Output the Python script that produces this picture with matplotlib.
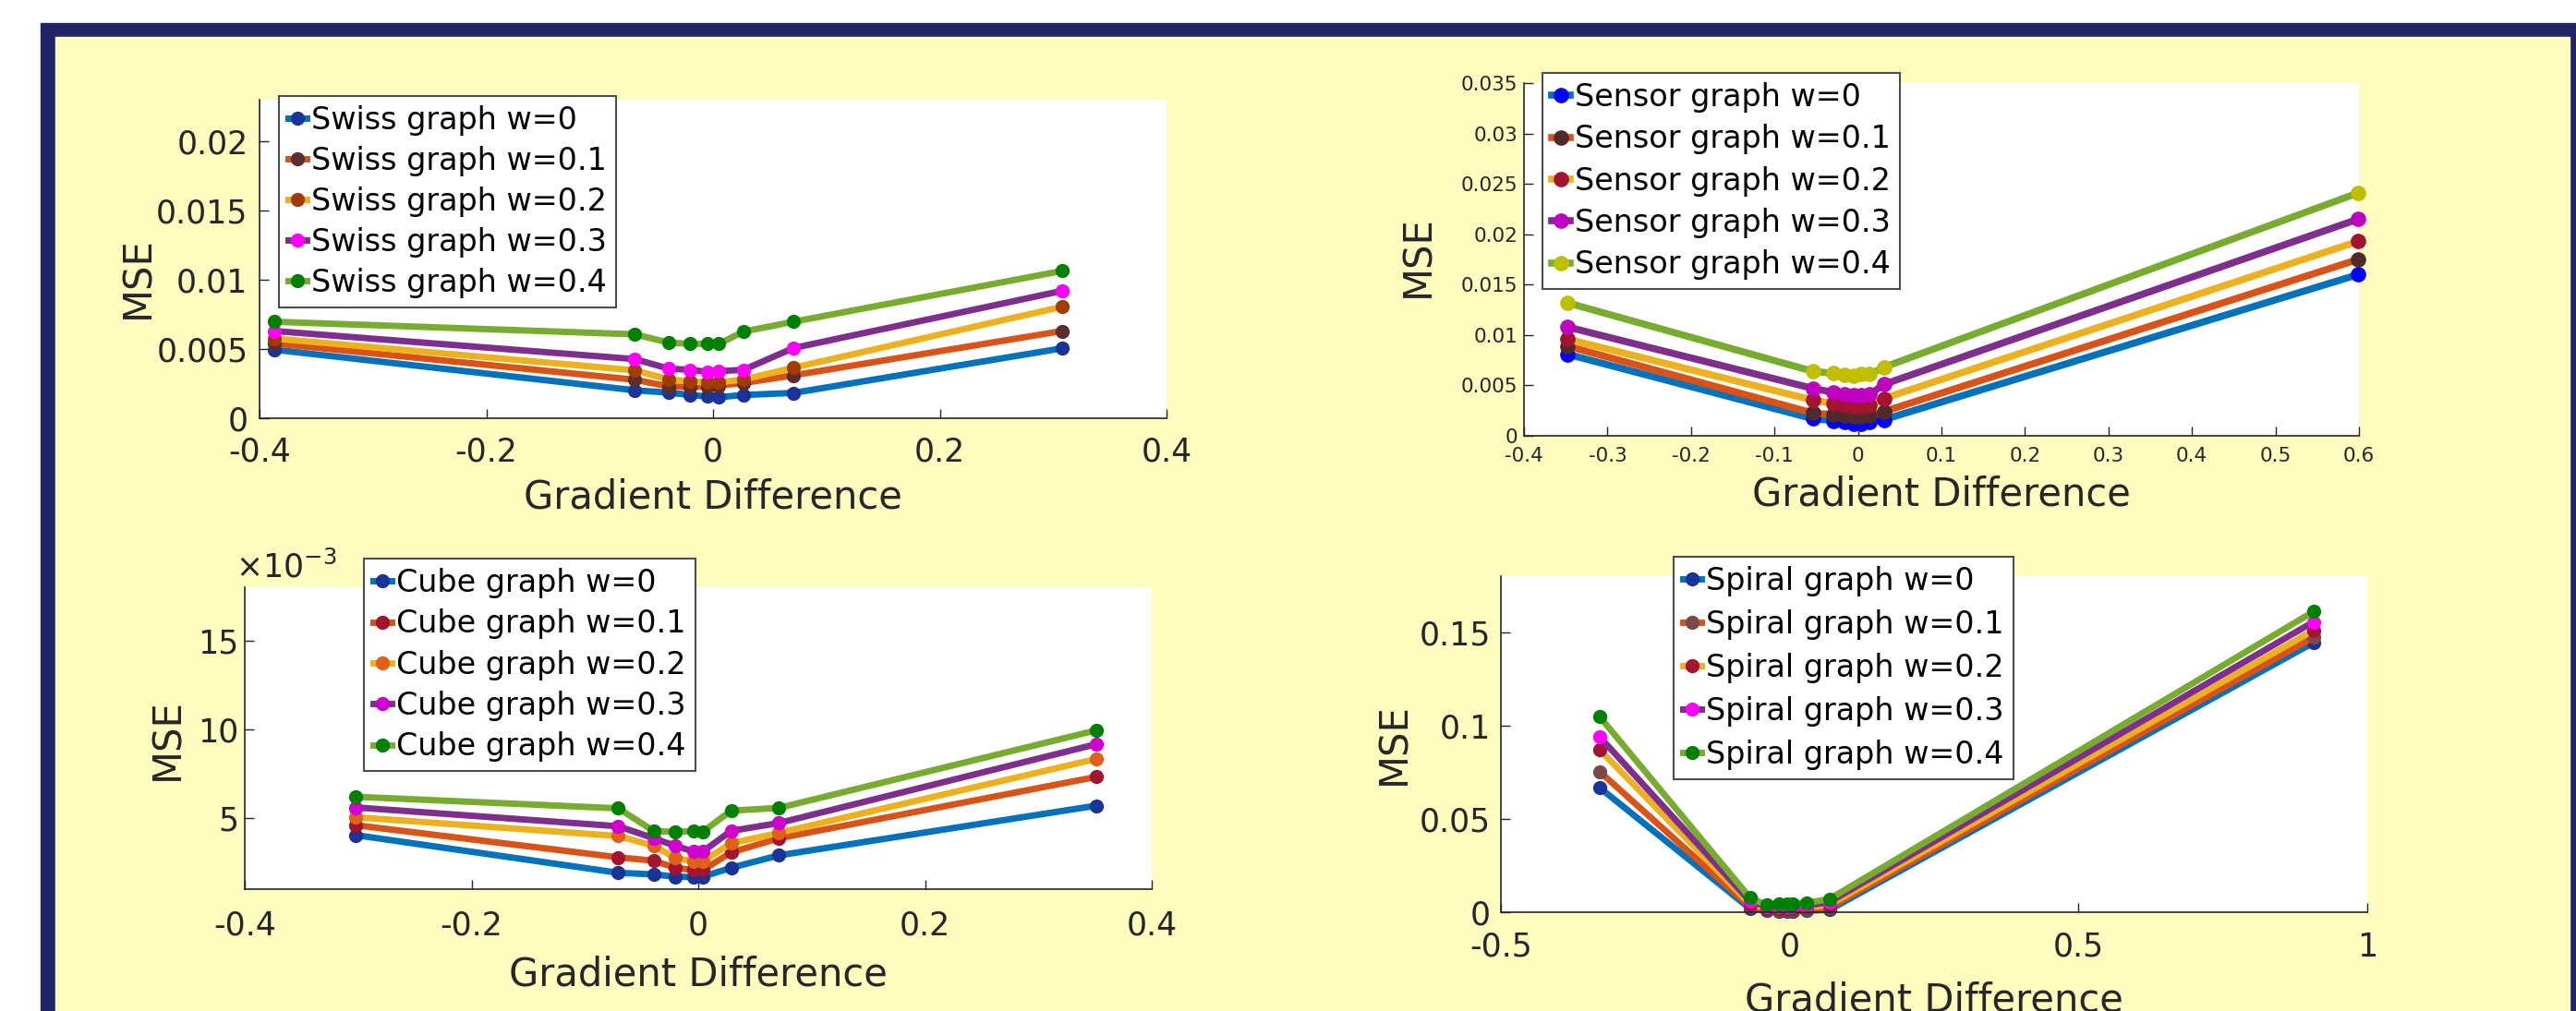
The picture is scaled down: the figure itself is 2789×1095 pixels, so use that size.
from __future__ import annotations

import matplotlib

matplotlib.use("Agg")
import matplotlib.pyplot as plt
from matplotlib.patches import Rectangle
from matplotlib.ticker import FixedLocator, FuncFormatter

plt.rcParams["font.family"] = ["DejaVu Sans"]

# ----------------------------
# Data
# ----------------------------
weights = ["0", "0.1", "0.2", "0.3", "0.4"]

swiss_x = [-0.387, -0.069, -0.039, -0.020, -0.005, 0.005, 0.027, 0.071, 0.308]
swiss_w0 = [0.00495, 0.00202, 0.00185, 0.00168, 0.00157, 0.00152, 0.00168, 0.00183, 0.00505]
swiss_w1 = [0.00540, 0.00278, 0.00230, 0.00225, 0.00230, 0.00236, 0.00255, 0.00310, 0.00630]
swiss_w2 = [0.00576, 0.00346, 0.00280, 0.00266, 0.00260, 0.00260, 0.00280, 0.00365, 0.00805]
swiss_w3 = [0.00630, 0.00427, 0.00358, 0.00350, 0.00335, 0.00340, 0.00350, 0.00507, 0.00920]
swiss_w4 = [0.00697, 0.00606, 0.00546, 0.00537, 0.00537, 0.00537, 0.00626, 0.00697, 0.01064]

sensor_x = [-0.348, -0.054, -0.029, -0.016, -0.005, 0.004, 0.014, 0.031, 0.599]
sensor_w0 = [0.0081, 0.0017, 0.0015, 0.0014, 0.0012, 0.0012, 0.0014, 0.0016, 0.0160]
sensor_w1 = [0.0089, 0.00226, 0.0021, 0.0020, 0.0019, 0.0019, 0.0020, 0.0024, 0.0175]
sensor_w2 = [0.0096, 0.00354, 0.0032, 0.0030, 0.0029, 0.0029, 0.0030, 0.0037, 0.0193]
sensor_w3 = [0.0108, 0.0047, 0.0043, 0.0041, 0.0040, 0.0040, 0.0041, 0.0051, 0.0215]
sensor_w4 = [0.0132, 0.0064, 0.0062, 0.00605, 0.0060, 0.0061, 0.0061, 0.0068, 0.0241]

cube_x = [-0.302, -0.0705, -0.039, -0.020, -0.004, 0.004, 0.029, 0.071, 0.351]
cube_w0 = [0.00404, 0.00192, 0.00183, 0.00170, 0.00168, 0.00170, 0.00220, 0.00290, 0.00570]
cube_w1 = [0.00460, 0.00279, 0.00260, 0.00220, 0.00207, 0.00207, 0.00307, 0.00386, 0.00732]
cube_w2 = [0.00505, 0.00399, 0.00343, 0.00275, 0.00257, 0.00257, 0.00358, 0.00417, 0.00833]
cube_w3 = [0.00560, 0.00454, 0.00386, 0.00343, 0.00312, 0.00312, 0.00428, 0.00472, 0.00916]
cube_w4 = [0.00620, 0.00555, 0.00426, 0.00423, 0.00426, 0.00423, 0.00542, 0.00557, 0.00994]

spiral_x = [-0.329, -0.069, -0.040, -0.018, -0.005, 0.005, 0.029, 0.069, 0.907]
spiral_w0 = [0.0667, 0.0020, 0.0008, 0.0005, 0.0005, 0.0005, 0.0008, 0.0013, 0.1444]
spiral_w1 = [0.0753, 0.0030, 0.0015, 0.0012, 0.0012, 0.0012, 0.0015, 0.0025, 0.1472]
spiral_w2 = [0.0870, 0.0045, 0.0022, 0.0020, 0.0020, 0.0020, 0.0025, 0.0040, 0.1510]
spiral_w3 = [0.0939, 0.0060, 0.0030, 0.0030, 0.0030, 0.0030, 0.0035, 0.0055, 0.1555]
spiral_w4 = [0.1047, 0.0079, 0.0038, 0.0046, 0.0046, 0.0046, 0.0050, 0.0071, 0.1610]

swiss_xticks = [-0.4, -0.2, 0, 0.2, 0.4]
swiss_yticks = [0, 0.005, 0.01, 0.015, 0.02]
sensor_xticks = [-0.4, -0.3, -0.2, -0.1, 0, 0.1, 0.2, 0.3, 0.4, 0.5, 0.6]
sensor_yticks = [0, 0.005, 0.01, 0.015, 0.02, 0.025, 0.03, 0.035]
cube_xticks = [-0.4, -0.2, 0, 0.2, 0.4]
cube_yticks = [0.005, 0.010, 0.015]
spiral_xticks = [-0.5, 0, 0.5, 1]
spiral_yticks = [0, 0.05, 0.1, 0.15]

# MATLAB default line colours, one per weight
line_colors = ["#0072BD", "#D95319", "#EDB120", "#7E2F8E", "#77AC30"]

swiss_markers = ["#1a3399", "#5a2e2e", "#a03c00", "#ff00ff", "#008000"]
sensor_markers = ["#0000ff", "#4f2a2a", "#a2142f", "#c000c0", "#bfbf00"]
cube_markers = ["#1a3399", "#a2142f", "#e0601a", "#d000d0", "#008000"]
spiral_markers = ["#1a3399", "#7a4a4a", "#a2142f", "#ff00ff", "#008000"]

NAVY = "#222468"
PAPER = "#fffcc0"
INK = "#262626"

W, H = 2789, 1095


def _fig_box(left: float, top: float, right: float, bottom: float) -> list[float]:
    """pixel box -> [left, bottom, width, height] in figure fraction"""
    return [left / W, 1 - bottom / H, (right - left) / W, (bottom - top) / H]


def _panel(
    fig,
    box: list[float],
    x: list[float],
    series: list[list[float]],
    name: str,
    markers: list[str],
    xlim: tuple[float, float],
    ylim: tuple[float, float],
    xticks: list[float],
    yticks: list[float],
    legend_at: tuple[float, float],
    ylabel_at: tuple[float, float],
    xlabel_at: tuple[float, float],
    tick_size: float = 25,
    xpad: float = 14,
    ypad: float = 8,
    lw: float = 5.0,
    ms: float = 10,
    spacing: float = 0.36,
):
    ax = fig.add_axes(box)
    ax.set_facecolor("white")

    for i, y in enumerate(series):
        ax.plot(
            x,
            y,
            color=line_colors[i],
            linewidth=lw,
            marker="o",
            markersize=ms,
            markerfacecolor=markers[i],
            markeredgecolor=markers[i],
            label=f"{name} graph w={weights[i]}",
            clip_on=False,
        )

    ax.set_xlim(*xlim)
    ax.set_ylim(*ylim)
    ax.xaxis.set_major_locator(FixedLocator(xticks))
    ax.yaxis.set_major_locator(FixedLocator(yticks))
    ax.xaxis.set_major_formatter(FuncFormatter(lambda v, _: f"{v:g}"))
    ax.yaxis.set_major_formatter(FuncFormatter(lambda v, _: f"{v:g}"))

    for side in ("top", "right"):
        ax.spines[side].set_visible(False)
    for side in ("left", "bottom"):
        ax.spines[side].set_color(INK)
        ax.spines[side].set_linewidth(1.2)

    ax.tick_params(
        direction="in",
        length=7,
        width=1.0,
        color=INK,
        labelcolor=INK,
        labelsize=tick_size,
    )
    ax.tick_params(axis="x", pad=xpad)
    ax.tick_params(axis="y", pad=ypad)

    ax.set_xlabel("Gradient Difference", fontsize=30, color=INK)
    ax.set_ylabel("MSE", fontsize=30, color=INK)
    ax.xaxis.set_label_coords(*xlabel_at)
    ax.yaxis.set_label_coords(*ylabel_at)

    leg = ax.legend(
        loc="upper left",
        bbox_to_anchor=legend_at,
        bbox_transform=fig.transFigure,
        borderaxespad=0,
        fontsize=24,
        handlelength=0.6,
        handletextpad=0.15,
        borderpad=0.3,
        labelspacing=spacing,
        fancybox=False,
        framealpha=1,
        edgecolor="0.3",
    )
    leg.get_frame().set_linewidth(1.5)
    return ax


fig = plt.figure(figsize=(W / 100, H / 100), dpi=100)
fig.patch.set_facecolor("white")

# poster frame: navy border, pale yellow panel
fig.patches.append(
    Rectangle((44 / W, 0), 1, 1 - 25 / H, transform=fig.transFigure, color=NAVY, zorder=-2)
)
fig.patches.append(
    Rectangle(
        (60 / W, 0), (2782 - 60) / W, 1 - 40 / H, transform=fig.transFigure, color=PAPER, zorder=-1
    )
)

# ----------------------------
# Swiss graph
# ----------------------------
_panel(
    fig,
    _fig_box(281, 108, 1263, 453),
    swiss_x,
    [swiss_w0, swiss_w1, swiss_w2, swiss_w3, swiss_w4],
    "Swiss",
    swiss_markers,
    (-0.4, 0.4),
    (0, 0.023),
    swiss_xticks,
    swiss_yticks,
    legend_at=(302 / W, 1 - 104 / H),
    ylabel_at=(-0.113, 0.443),
    xlabel_at=(0.5, -0.188),
    xpad=14,
    ypad=9,
    spacing=0.33,
)

# ----------------------------
# Sensor graph
# ----------------------------
_panel(
    fig,
    _fig_box(1650, 90, 2554, 472),
    sensor_x,
    [sensor_w0, sensor_w1, sensor_w2, sensor_w3, sensor_w4],
    "Sensor",
    sensor_markers,
    (-0.4, 0.6),
    (0, 0.035),
    sensor_xticks,
    sensor_yticks,
    legend_at=(1670 / W, 1 - 79 / H),
    ylabel_at=(-0.104, 0.508),
    xlabel_at=(0.5, -0.110),
    tick_size=15.5,
    xpad=9,
    ypad=5,
    lw=5.5,
    ms=11,
    spacing=0.37,
)

# ----------------------------
# Cube graph
# ----------------------------
ax = _panel(
    fig,
    _fig_box(265, 636, 1247, 963),
    cube_x,
    [cube_w0, cube_w1, cube_w2, cube_w3, cube_w4],
    "Cube",
    cube_markers,
    (-0.4, 0.4),
    (0.001, 0.018),
    cube_xticks,
    cube_yticks,
    legend_at=(394 / W, 1 - 605 / H),
    ylabel_at=(-0.064, 0.498),
    xlabel_at=(0.5, -0.220),
    xpad=16,
    ypad=4.5,
    spacing=0.34,
)
ax.yaxis.set_major_formatter(FuncFormatter(lambda v, _: f"{v * 1e3:g}"))
ax.text(
    -0.01,
    1.01,
    r"$\times10^{-3}$",
    transform=ax.transAxes,
    fontsize=25,
    color=INK,
    ha="left",
    va="bottom",
)

# ----------------------------
# Spiral graph
# ----------------------------
_panel(
    fig,
    _fig_box(1625, 624, 2563, 988),
    spiral_x,
    [spiral_w0, spiral_w1, spiral_w2, spiral_w3, spiral_w4],
    "Spiral",
    spiral_markers,
    (-0.5, 1.0),
    (0, 0.18),
    spiral_xticks,
    spiral_yticks,
    legend_at=(1812 / W, 1 - 603 / H),
    ylabel_at=(-0.101, 0.5),
    xlabel_at=(0.5, -0.206),
    xpad=15,
    ypad=8,
    spacing=0.42,
)

fig.savefig("out.png", dpi=100, facecolor=fig.get_facecolor())
